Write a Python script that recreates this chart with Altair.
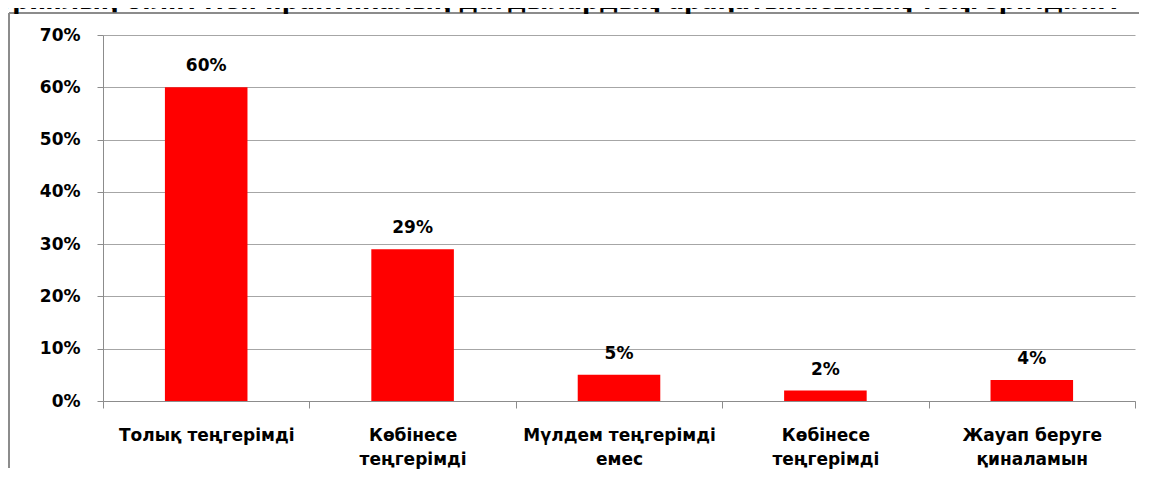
import json
import altair as alt
import pandas as pd

# ---- data ----
categories = [
    "Толық теңгерімді",
    "Көбінесе теңгерімді",
    "Мүлдем теңгерімді емес",
    "Көбінесе теңгерімді",
    "Жауап беруге қиналамын",
]
label_lines = [
    ["Толық теңгерімді"],
    ["Көбінесе", "теңгерімді"],
    ["Мүлдем теңгерімді", "емес"],
    ["Көбінесе", "теңгерімді"],
    ["Жауап беруге", "қиналамын"],
]
values = [0.60, 0.29, 0.05, 0.02, 0.04]
y_ticks = [0.0, 0.1, 0.2, 0.3, 0.4, 0.5, 0.6, 0.7]
title_text = "Теориялық білім мен практикалық дағдылардың арақатынасының теңгерімділігі"

df = pd.DataFrame({"idx": list(range(len(categories))), "category": categories, "value": values})

FONT = "DejaVu Sans"
GRAY = "#8c8c8c"

label_expr = json.dumps(label_lines, ensure_ascii=False) + "[datum.value]"

x_enc = alt.X(
    "idx:O",
    scale=alt.Scale(paddingInner=0, paddingOuter=0),
    axis=alt.Axis(
        title=None,
        labelExpr=label_expr,
        labelAngle=0,
        labelFont=FONT,
        labelFontWeight="bold",
        labelFontSize=17,
        labelColor="black",
        labelLineHeight=24,
        labelPadding=19,
        labelBaseline="top",
        labelLimit=0,
        tickBand="extent",
        tickSize=7,
        tickColor=GRAY,
        domainColor=GRAY,
        grid=False,
    ),
)
y_enc = alt.Y(
    "value:Q",
    scale=alt.Scale(domain=[0, 0.7], nice=False),
    axis=alt.Axis(
        title=None,
        values=y_ticks,
        format=".0%",
        labelFont=FONT,
        labelFontWeight="bold",
        labelFontSize=17,
        labelColor="black",
        labelPadding=17,
        tickSize=6,
        tickColor=GRAY,
        domainColor=GRAY,
        grid=True,
        gridColor="#a6a6a6",
        gridWidth=1,
    ),
)

base = alt.Chart(df)

bars = base.mark_bar(color="#FF0000", width=alt.RelativeBandSize(0.4)).encode(x=x_enc, y=y_enc)

labels = base.mark_text(
    font=FONT, fontWeight="bold", fontSize=17, color="black", baseline="middle", dy=-21
).encode(x=x_enc, y=y_enc, text=alt.Text("value:Q", format=".0%"))

frame_df = pd.DataFrame({"k": [0]})
frame_left = alt.Chart(frame_df).mark_rule(stroke="#8c8c8c", strokeWidth=2).encode(
    x=alt.value(-94), y=alt.value(-22), y2=alt.value(433)
)
frame_top = alt.Chart(frame_df).mark_rule(stroke="#8c8c8c", strokeWidth=2).encode(
    x=alt.value(-94), x2=alt.value(1036), y=alt.value(-22)
)

title_df = pd.DataFrame({"t": [title_text]})
title = alt.Chart(title_df).mark_text(
    font=FONT, fontWeight="bold", fontSize=24, color="black", align="left", baseline="alphabetic"
).encode(text="t:N", x=alt.value(-140), y=alt.value(-26))

chart = (
    alt.layer(frame_left, frame_top, bars, labels, title)
    .properties(
        width=1032,
        height=366,
        autosize=alt.AutoSizeParams(type="none"),
        padding={"left": 95, "top": 27, "right": 7, "bottom": 70},
    )
    .configure_view(stroke=None)
)

chart.save("out.html", embed_options={"renderer": "svg", "actions": False})
